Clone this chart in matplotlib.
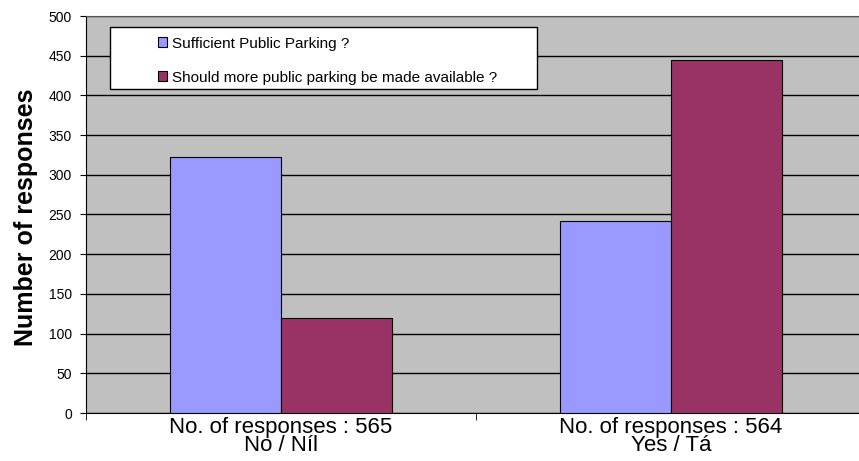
import matplotlib.pyplot as plt
from matplotlib.patches import Rectangle
import numpy as np

plt.rcParams['font.family'] = ['Liberation Sans', 'DejaVu Sans']

# Дані
categories = ['No. of responses : 565\nNo / Níl', 'No. of responses : 564\nYes / Tá']
series_names = ['Sufficient Public Parking ?',
                'Should more public parking be made available ?']
sufficient = [323, 242]
more_parking = [120, 444]
colors = ['#9999FF', '#993366']

fig = plt.figure(figsize=(8.59, 4.61), dpi=100)
ax = fig.add_axes([86 / 859, 48 / 461, 780 / 859, 397 / 461])
ax.set_facecolor('#C0C0C0')

x = np.arange(len(categories))
w = 0.285
ax.bar(x - w / 2, sufficient, w, color=colors[0], edgecolor='black', linewidth=0.8,
       label=series_names[0], zorder=3)
ax.bar(x + w / 2, more_parking, w, color=colors[1], edgecolor='black', linewidth=0.8,
       label=series_names[1], zorder=3)

ax.set_xlim(-0.5, len(categories) - 0.5)
ax.set_ylim(0, 500)
ax.set_yticks(np.arange(0, 501, 50))
ax.yaxis.grid(True, color='black', linewidth=1, zorder=1)
ax.set_axisbelow(True)
ax.tick_params(axis='y', labelsize=10, length=4, pad=6, direction='out')

# Мітки категорій по центру, поділки на межах
ax.set_xticks(x)
ax.set_xticklabels(categories, fontsize=16, linespacing=0.78)
ax.tick_params(axis='x', length=0, pad=3)
ax.set_xticks(np.arange(-0.5, len(categories)), minor=True)
ax.tick_params(axis='x', which='minor', length=5, direction='out')

for s in ['left', 'bottom']:
    ax.spines[s].set_color('black')
ax.spines['top'].set_color('#555555')
ax.spines['right'].set_visible(False)

ax.set_ylabel('Number of responses', fontsize=18, fontweight='bold')
ax.yaxis.set_label_coords(-0.0615, 0.492)

# Рамка легенди
box = Rectangle((0.0308, 0.816), 0.547, 0.156, transform=ax.transAxes,
                facecolor='white', edgecolor='black', linewidth=1, zorder=5)
ax.add_patch(box)

leg = ax.legend(loc='upper left', bbox_to_anchor=(0.092, 0.948),
                fontsize=11, frameon=False,
                handlelength=0.6, handleheight=0.6, borderpad=0,
                labelspacing=1.3, handletextpad=0.3, borderaxespad=0)
leg.set_zorder(6)

fig.savefig('out.png', dpi=100)
